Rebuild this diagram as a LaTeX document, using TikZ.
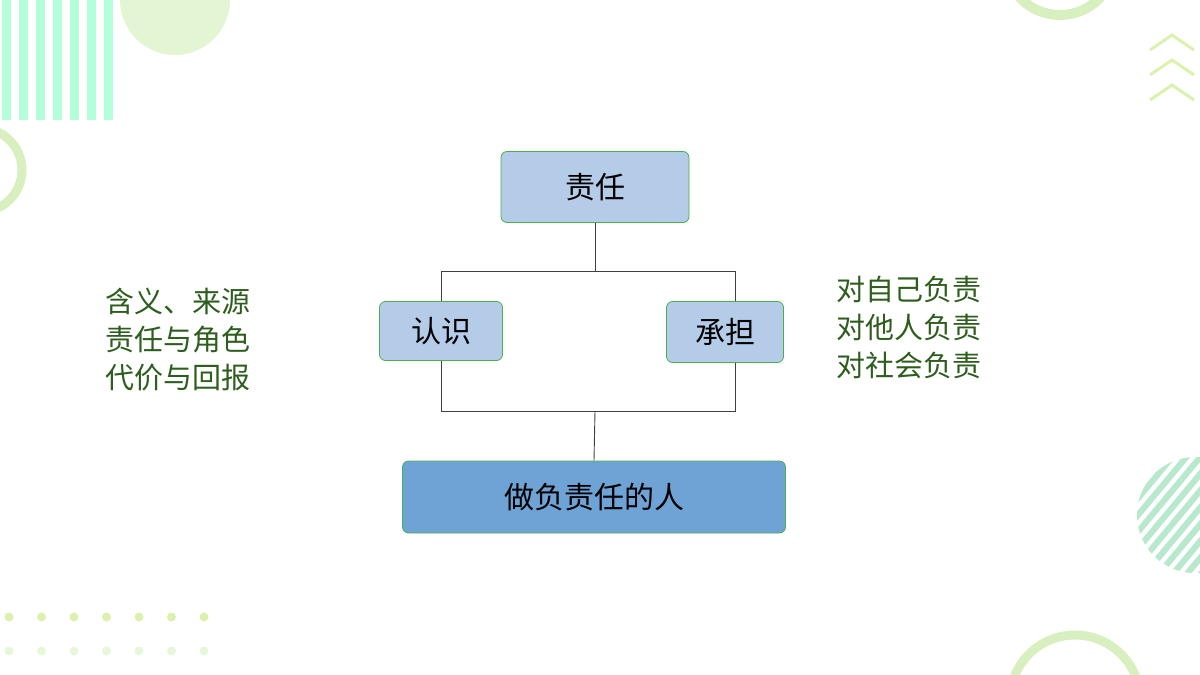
\documentclass[tikz,border=0pt]{standalone}
\usepackage{fontspec}
\newfontfamily\cjk{Noto Sans CJK SC}
\begin{document}
\begin{tikzpicture}[x=1pt,y=-1pt,
  box/.style={draw=green!55!black!70, line width=0.8pt, rounded corners=6pt, fill=boxlight, font=\cjk\fontsize{30}{30}\selectfont, text=black},
  conn/.style={draw=black!75, line width=0.9pt},
  side/.style={font=\cjk\fontsize{29}{38}\selectfont, text=txtgreen, align=left, anchor=north west}]
\definecolor{boxlight}{HTML}{B4CCE8}
\definecolor{boxdark}{HTML}{6FA3D6}
\definecolor{txtgreen}{HTML}{2E5E1E}
\definecolor{pale}{HTML}{D8F0C0}
\definecolor{mint}{HTML}{9ADFB8}
\useasboundingbox (0,0) rectangle (1200,675);
% decorations
\begin{scope}
\clip (0,0) rectangle (1200,675);
\fill[pale!70] (175,0) circle (55);
\foreach \i in {0,...,6}{\fill[green!50!cyan!30!white] (\i*17+2,0) rectangle (\i*17+11,120);}
\draw[pale, line width=9pt] (-20,170) circle (42);
\draw[pale, line width=10pt] (1060,-40) circle (55);
\foreach \k in {0,1,2}{\draw[pale!90!yellow, line width=3pt] (1150,50+\k*25) -- (1172,35+\k*25) -- (1194,50+\k*25);}
\begin{scope}
\clip (1195,515) circle (58);
\foreach \i in {-6,...,6}{\fill[mint!70] (1140+\i*14,575) -- (1148+\i*14,575) -- (1248+\i*14,455) -- (1240+\i*14,455) -- cycle;}
\end{scope}
\draw[pale, line width=9pt] (1075,700) circle (65);
\foreach \i in {0,...,6}{\fill[pale!90!yellow] (9+\i*32.5,617) circle (4.5); \fill[pale!60] (9+\i*32.5,651) circle (4.5);}
\end{scope}
% nodes
\node[box, minimum width=188pt, minimum height=71pt] (zr) at (595,187) {责任};
\node[box, minimum width=123pt, minimum height=59pt] (rs) at (441,331) {认识};
\node[box, minimum width=117pt, minimum height=61pt] (cd) at (725,332) {承担};
\node[box, fill=boxdark, minimum width=383pt, minimum height=72pt] (zf) at (594,497) {做负责任的人};
\coordinate (t1) at (441,271); \coordinate (t2) at (735,271);
\coordinate (b1) at (441,411); \coordinate (b2) at (735,411);
\draw[conn] (zr.south) -- (zr.south |- t1);
\draw[conn] (rs.north |- t1) -- (t2) -- (t2 |- cd.north);
\draw[conn] (t1) -- (rs.north);
\draw[conn] (rs.south) -- (b1) -- (b2) -- (b2 |- cd.south);
\draw[conn] (zr.south |- b1) -- (zf.north);
\node[side] (lt) at (102,284) {含义、来源\\责任与角色\\代价与回报};
\node[side] (rt) at (833,273) {对自己负责\\对他人负责\\对社会负责};
\end{tikzpicture}
\end{document}
